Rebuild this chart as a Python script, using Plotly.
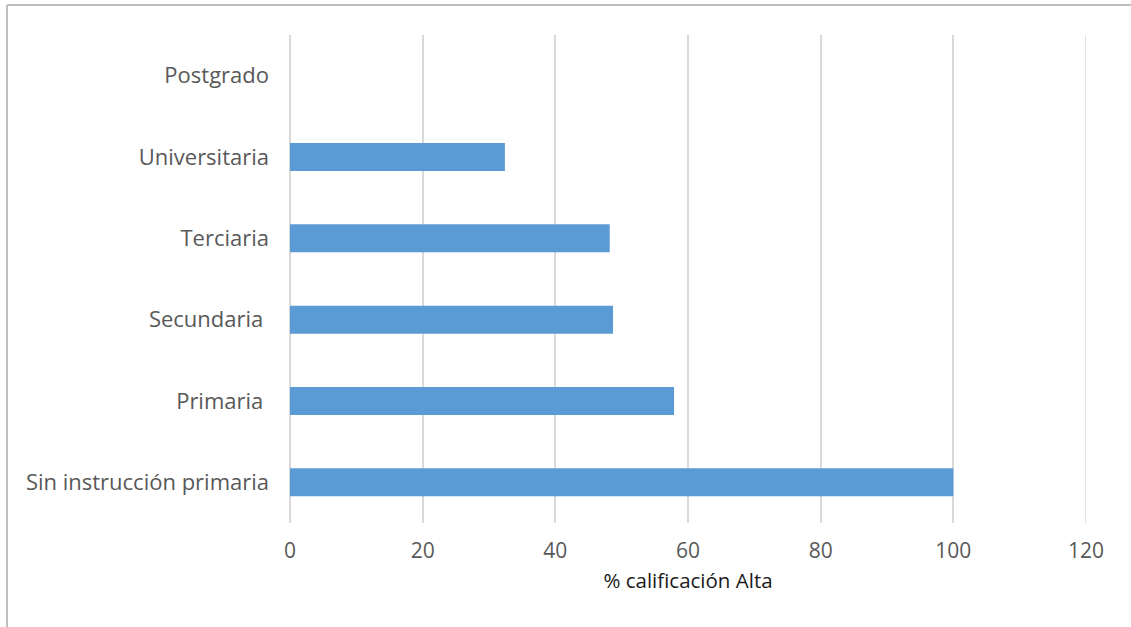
import plotly.graph_objects as go

# Education levels (bottom to top) and share of "Alta" rating
niveles = ["Sin instrucción primaria", "Primaria\u00a0", "Secundaria\u00a0",
           "Terciaria", "Universitaria", "Postgrado"]
pct_alta = [100, 57.9, 48.7, 48.2, 32.4, 0]
x_ticks = [0, 20, 40, 60, 80, 100, 120]
x_max = x_ticks[-1]

fig = go.Figure(go.Bar(
    y=niveles,
    x=pct_alta,
    orientation="h",
    marker=dict(color="#5b9bd5", line=dict(width=0)),
))

grid_color = "#d9d9d9"

fig.update_layout(
    width=1131, height=627,
    margin=dict(l=290, r=45, t=35, b=104),
    paper_bgcolor="white",
    plot_bgcolor="white",
    bargap=0.655,
    showlegend=False,
    font=dict(family="Open Sans, Noto Sans, sans-serif", color="#595959"),
    xaxis=dict(
        range=[0, x_max],
        tickvals=x_ticks,
        showgrid=True,
        gridcolor=grid_color,
        gridwidth=1.5,
        zeroline=True,
        zerolinecolor=grid_color,
        zerolinewidth=1.5,
        showline=False,
        ticks="",
        ticklabelstandoff=13,
        tickfont=dict(size=21, color="#595959"),
        title=dict(text="% calificación Alta", standoff=10,
                   font=dict(size=20.5, color="#1a1a1a")),
    ),
    yaxis=dict(
        showgrid=False,
        zeroline=False,
        showline=False,
        ticks="",
        ticklabelstandoff=20,
        tickfont=dict(size=22, color="#595959"),
    ),
    shapes=[
        # gridline at the upper end of the value axis
        dict(type="line", xref="x", yref="paper", x0=x_max, x1=x_max, y0=0, y1=1,
             layer="below", line=dict(color=grid_color, width=1.5)),
        # outer frame of the chart area (left and top edges)
        dict(type="line", xref="paper", yref="paper",
             x0=-283 / 796, x1=1131 / 796, y0=(627 - 104 - 5) / 488, y1=(627 - 104 - 5) / 488,
             line=dict(color="#bfbfbf", width=2)),
        dict(type="line", xref="paper", yref="paper",
             x0=-283 / 796, x1=-283 / 796, y0=-104 / 488, y1=(627 - 104 - 5) / 488,
             line=dict(color="#bfbfbf", width=2)),
    ],
)

fig.write_html("out.html")
